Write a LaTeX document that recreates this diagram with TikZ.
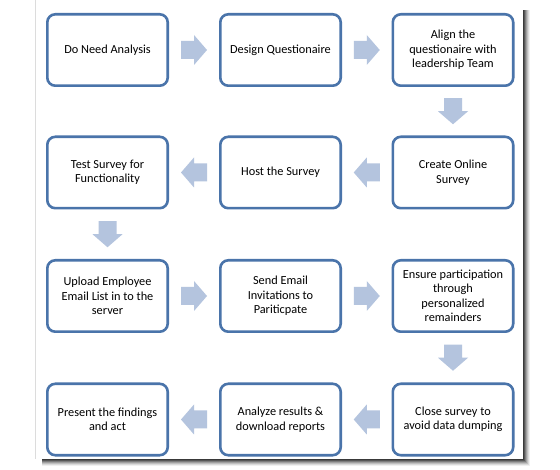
\documentclass[tikz,border=0pt]{standalone}
\usepackage{fontspec}
\setmainfont{Carlito}
\usetikzlibrary{calc}
\definecolor{boxline}{RGB}{74,116,170}
\definecolor{arrowfill}{RGB}{180,196,222}
\definecolor{frameline}{RGB}{220,220,220}
\tikzset{
  stepbox/.style={draw=boxline, line width=2.6pt, rounded corners=8pt, fill=white,
    minimum width=120.4pt, minimum height=71.4pt, align=center, inner sep=0pt,
    font=\fontsize{12.3}{14.5}\selectfont},
  blk/.pic={\fill[arrowfill] (-13,-9) -- (0,-9) -- (0,-15) -- (13,0) -- (0,15) -- (0,9) -- (-13,9) -- cycle;}
}
\begin{document}
\begin{tikzpicture}[x=1pt,y=-1pt]
\useasboundingbox (0,0) rectangle (560,470);
% frame with shadow
\foreach \i/\o in {7/0.06,6/0.09,5/0.12,4/0.16,3/0.22,2/0.3,1/0.35}
  \fill[black,opacity=\o] (42,10) rectangle (523+\i,459+\i);
\fill[white] (35,-5) rectangle (523,459);
\draw[frameline,line width=0.6pt] (35,-5) -- (35,459);
% boxes
\node[stepbox] (a1) at (107.5,50) {Do Need Analysis};
\node[stepbox] (a2) at (280.5,50) {Design Questionaire};
\node[stepbox] (a3) at (453,50) {Align the\\questionaire with\\leadership Team};
\node[stepbox] (a4) at (453,172.5) {Create Online\\Survey};
\node[stepbox] (a5) at (280.5,172.5) {Host the Survey};
\node[stepbox] (a6) at (107.5,172.5) {Test Survey for\\Functionality};
\node[stepbox] (a7) at (107.5,296) {Upload Employee\\Email List in to the\\server};
\node[stepbox] (a8) at (280.5,296) {Send Email\\Invitations to\\Pariticpate};
\node[stepbox] (a9) at (453,296) {Ensure participation\\through\\personalized\\remainders};
\node[stepbox] (a10) at (453,419.5) {Close survey to\\avoid data dumping};
\node[stepbox] (a11) at (280.5,419.5) {Analyze results \&\\download reports};
\node[stepbox] (a12) at (107.5,419.5) {Present the findings\\and act};
% arrows
\pic at ($(a1.east)!0.5!(a2.west)$) {blk};
\pic at ($(a2.east)!0.5!(a3.west)$) {blk};
\pic[rotate=-90] at ($(a3.south)!0.5!(a4.north)$) {blk};
\pic[rotate=180] at ($(a4.west)!0.5!(a5.east)$) {blk};
\pic[rotate=180] at ($(a5.west)!0.5!(a6.east)$) {blk};
\pic[rotate=-90] at ($(a6.south)!0.5!(a7.north)$) {blk};
\pic at ($(a7.east)!0.5!(a8.west)$) {blk};
\pic at ($(a8.east)!0.5!(a9.west)$) {blk};
\pic[rotate=-90] at ($(a9.south)!0.5!(a10.north)$) {blk};
\pic[rotate=180] at ($(a10.west)!0.5!(a11.east)$) {blk};
\pic[rotate=180] at ($(a11.west)!0.5!(a12.east)$) {blk};
\end{tikzpicture}
\end{document}
